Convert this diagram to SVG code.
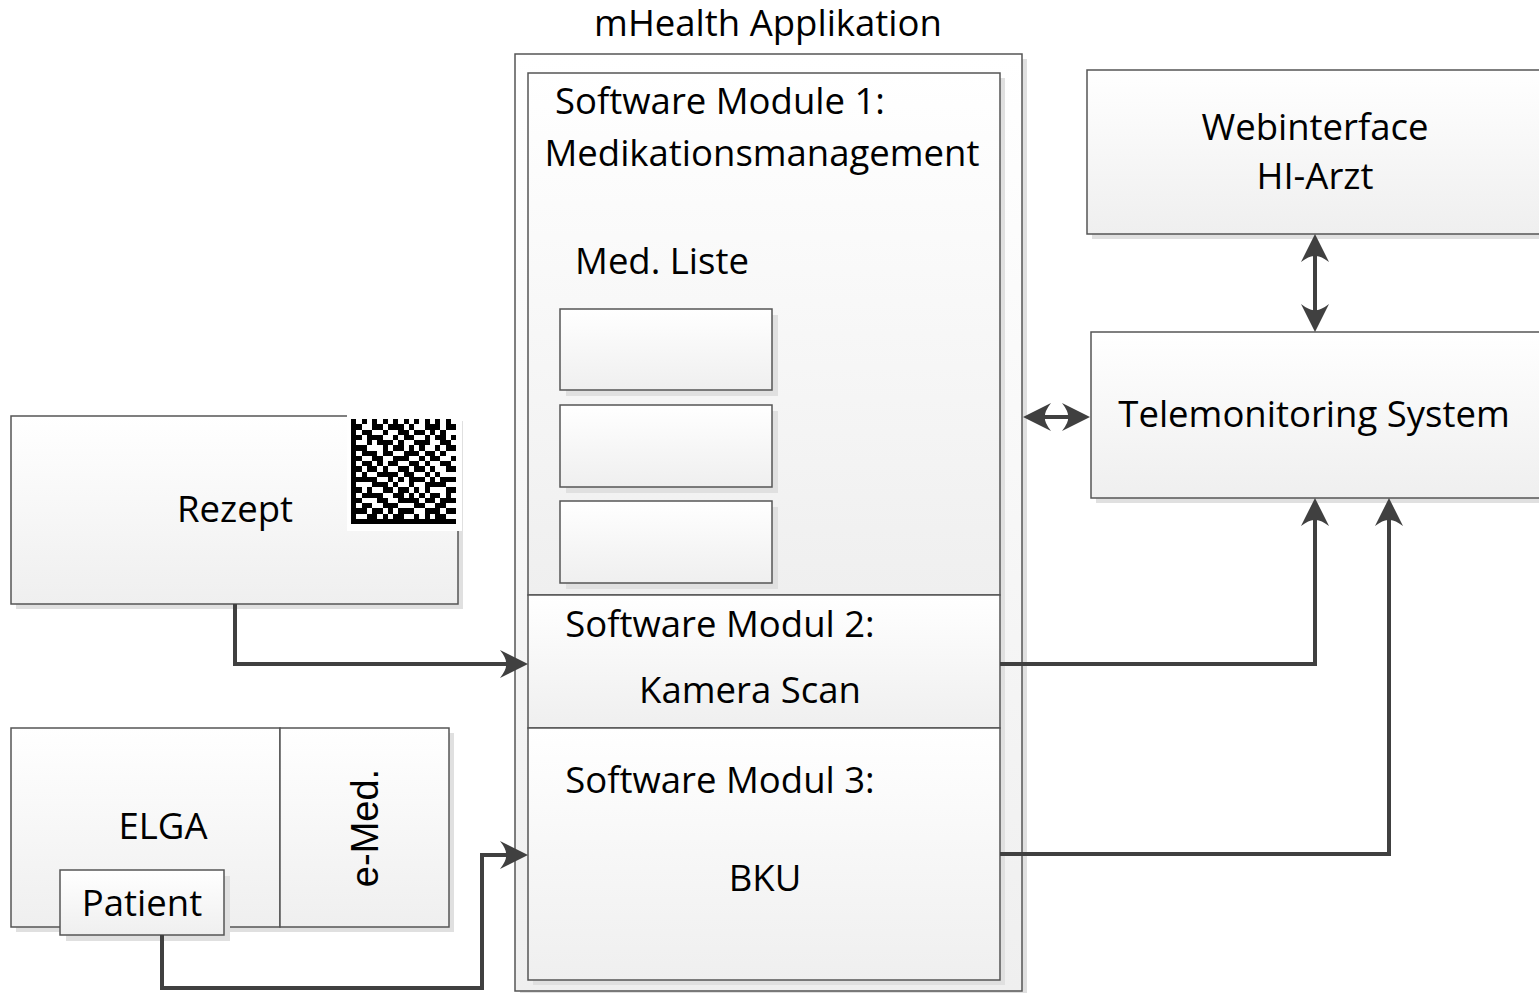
<svg xmlns="http://www.w3.org/2000/svg" width="1539" height="993" viewBox="0 0 1539 993">
<defs>
<linearGradient id="g" x1="0" y1="0" x2="0" y2="1"><stop offset="0" stop-color="#ffffff"/><stop offset="1" stop-color="#efefef"/></linearGradient>
<marker id="ah" markerUnits="userSpaceOnUse" markerWidth="30" markerHeight="32" viewBox="0 -16 30 32" refX="8" refY="0" orient="auto-start-reverse"><path d="M28,0 L0,-14 Q7,-5 6,0 Q7,5 0,14 Z" fill="#404040"/></marker>
</defs>
<style>
.box{fill:url(#g);stroke:#555;stroke-width:1.5}
.sh{fill:#e0e0e0}
.t{font-family:"Open Sans","Liberation Sans",sans-serif;font-size:36.5px;fill:#000;text-anchor:middle}
.a{font-family:"Liberation Sans",Arial,sans-serif;font-size:38px;fill:#000;text-anchor:middle}
.c{fill:none;stroke:#404040;stroke-width:4;marker-end:url(#ah)}
.d{marker-start:url(#ah)}
</style>
<rect width="1539" height="993" fill="#fff"/>
<g id="app">
<rect class="sh" x="520" y="59" width="507" height="937"/>
<rect class="box" x="515" y="54" width="507" height="937"/>
<text class="t" x="768" y="36">mHealth Applikation</text>
</g>
<g id="modul1">
<rect class="sh" x="533" y="78" width="472" height="522"/>
<rect class="box" x="528" y="73" width="472" height="522"/>
<text class="t" x="720" y="114">Software Module 1:</text>
<text class="t" x="762" y="166">Medikationsmanagement</text>
<text class="t" x="662" y="274">Med. Liste</text>
</g>
<g id="med1"><rect class="sh" x="566" y="315" width="212" height="81"/><rect class="box" x="560" y="309" width="212" height="81"/></g>
<g id="med2"><rect class="sh" x="566" y="411" width="212" height="82"/><rect class="box" x="560" y="405" width="212" height="82"/></g>
<g id="med3"><rect class="sh" x="566" y="507" width="212" height="82"/><rect class="box" x="560" y="501" width="212" height="82"/></g>
<g id="modul2">
<rect class="sh" x="533" y="600" width="472" height="133"/>
<rect class="box" x="528" y="595" width="472" height="133"/>
<text class="t" x="720" y="637">Software Modul 2:</text>
<text class="t" x="750" y="703">Kamera Scan</text>
</g>
<g id="modul3">
<rect class="sh" x="533" y="733" width="472" height="252"/>
<rect class="box" x="528" y="728" width="472" height="252"/>
<text class="t" x="720" y="793">Software Modul 3:</text>
<text class="t" x="765" y="891">BKU</text>
</g>
<g id="webinterface">
<rect class="sh" x="1092" y="75" width="460" height="164"/>
<rect class="box" x="1087" y="70" width="460" height="164"/>
<text class="t" x="1315" y="140">Webinterface</text>
<text class="t" x="1315" y="189">HI-Arzt</text>
</g>
<g id="telemonitoring">
<rect class="sh" x="1096" y="337" width="456" height="166"/>
<rect class="box" x="1091" y="332" width="456" height="166"/>
<text class="t" x="1314" y="427">Telemonitoring System</text>
</g>
<g id="rezept">
<rect class="sh" x="16" y="421" width="447" height="188"/>
<rect class="box" x="11" y="416" width="447" height="188"/>
<text class="t" x="235" y="522">Rezept</text>
<rect x="347" y="411" width="115" height="120" fill="#fff"/>
<path transform="translate(351,419) scale(5.25)" shape-rendering="crispEdges" fill="#000" d="M0 0h1v1h-1zM2 0h1v1h-1zM4 0h1v1h-1zM6 0h1v1h-1zM8 0h1v1h-1zM10 0h1v1h-1zM12 0h1v1h-1zM14 0h1v1h-1zM16 0h1v1h-1zM18 0h1v1h-1z
M0 1h2v1h-2zM4 1h2v1h-2zM7 1h3v1h-3zM11 1h1v1h-1zM14 1h3v1h-3zM18 1h2v1h-2z
M0 2h1v1h-1zM2 2h2v1h-2zM6 2h1v1h-1zM9 2h2v1h-2zM12 2h2v1h-2zM15 2h1v1h-1zM17 2h1v1h-1z
M0 3h2v1h-2zM3 3h3v1h-3zM8 3h1v1h-1zM10 3h2v1h-2zM14 3h1v1h-1zM16 3h2v1h-2zM19 3h1v1h-1z
M0 4h1v1h-1zM3 4h1v1h-1zM5 4h3v1h-3zM9 4h1v1h-1zM12 4h3v1h-3zM17 4h2v1h-2z
M0 5h3v1h-3zM6 5h1v1h-1zM8 5h2v1h-2zM11 5h1v1h-1zM13 5h1v1h-1zM16 5h1v1h-1zM18 5h2v1h-2z
M0 6h1v1h-1zM2 6h3v1h-3zM6 6h2v1h-2zM10 6h3v1h-3zM14 6h2v1h-2zM17 6h1v1h-1z
M0 7h2v1h-2zM4 7h2v1h-2zM8 7h3v1h-3zM13 7h1v1h-1zM15 7h2v1h-2zM19 7h1v1h-1z
M0 8h1v1h-1zM2 8h2v1h-2zM5 8h1v1h-1zM7 8h2v1h-2zM11 8h2v1h-2zM14 8h1v1h-1zM17 8h2v1h-2z
M0 9h2v1h-2zM3 9h2v1h-2zM6 9h1v1h-1zM9 9h2v1h-2zM12 9h2v1h-2zM15 9h1v1h-1zM18 9h2v1h-2z
M0 10h1v1h-1zM2 10h1v1h-1zM5 10h4v1h-4zM10 10h2v1h-2zM14 10h1v1h-1zM16 10h1v1h-1z
M0 11h5v1h-5zM7 11h1v1h-1zM9 11h1v1h-1zM11 11h3v1h-3zM15 11h1v1h-1zM17 11h3v1h-3z
M0 12h1v1h-1zM4 12h3v1h-3zM8 12h1v1h-1zM11 12h1v1h-1zM14 12h4v1h-4z
M0 13h2v1h-2zM3 13h1v1h-1zM6 13h2v1h-2zM9 13h2v1h-2zM12 13h1v1h-1zM14 13h1v1h-1zM18 13h2v1h-2z
M0 14h1v1h-1zM2 14h4v1h-4zM8 14h2v1h-2zM11 14h1v1h-1zM13 14h1v1h-1zM15 14h2v1h-2zM18 14h1v1h-1z
M0 15h2v1h-2zM5 15h2v1h-2zM9 15h4v1h-4zM14 15h2v1h-2zM17 15h3v1h-3z
M0 16h1v1h-1zM2 16h2v1h-2zM6 16h3v1h-3zM12 16h2v1h-2zM16 16h2v1h-2z
M0 17h3v1h-3zM4 17h2v1h-2zM7 17h1v1h-1zM9 17h3v1h-3zM14 17h3v1h-3zM18 17h2v1h-2z
M0 18h1v1h-1zM3 18h2v1h-2zM6 18h1v1h-1zM8 18h2v1h-2zM12 18h1v1h-1zM14 18h1v1h-1zM16 18h2v1h-2z
M0 19h20v1h-20z"/>
</g>
<g id="elga">
<rect class="sh" x="16" y="733" width="269" height="199"/>
<rect class="box" x="11" y="728" width="269" height="199"/>
<text class="t" x="163" y="839">ELGA</text>
</g>
<g id="emed">
<rect class="sh" x="285" y="733" width="169" height="199"/>
<rect class="box" x="280" y="728" width="169" height="199"/>
<text class="a" transform="translate(378,828) rotate(-90)" x="0" y="0">e-Med.</text>
</g>
<g id="patient">
<rect class="sh" x="66" y="876" width="164" height="65"/>
<rect class="box" x="60" y="870" width="164" height="65"/>
<text class="t" x="142" y="916">Patient</text>
</g>
<g id="connectors">
<path class="c" d="M235 604V664H508"/>
<path class="c" d="M162 935V988H482V855H508"/>
<path class="c" d="M1000 664H1315V518"/>
<path class="c" d="M1000 854H1389V518"/>
<path class="c d" d="M1315 254V312"/>
<path class="c d" d="M1043 417H1070"/>
</g>
</svg>
